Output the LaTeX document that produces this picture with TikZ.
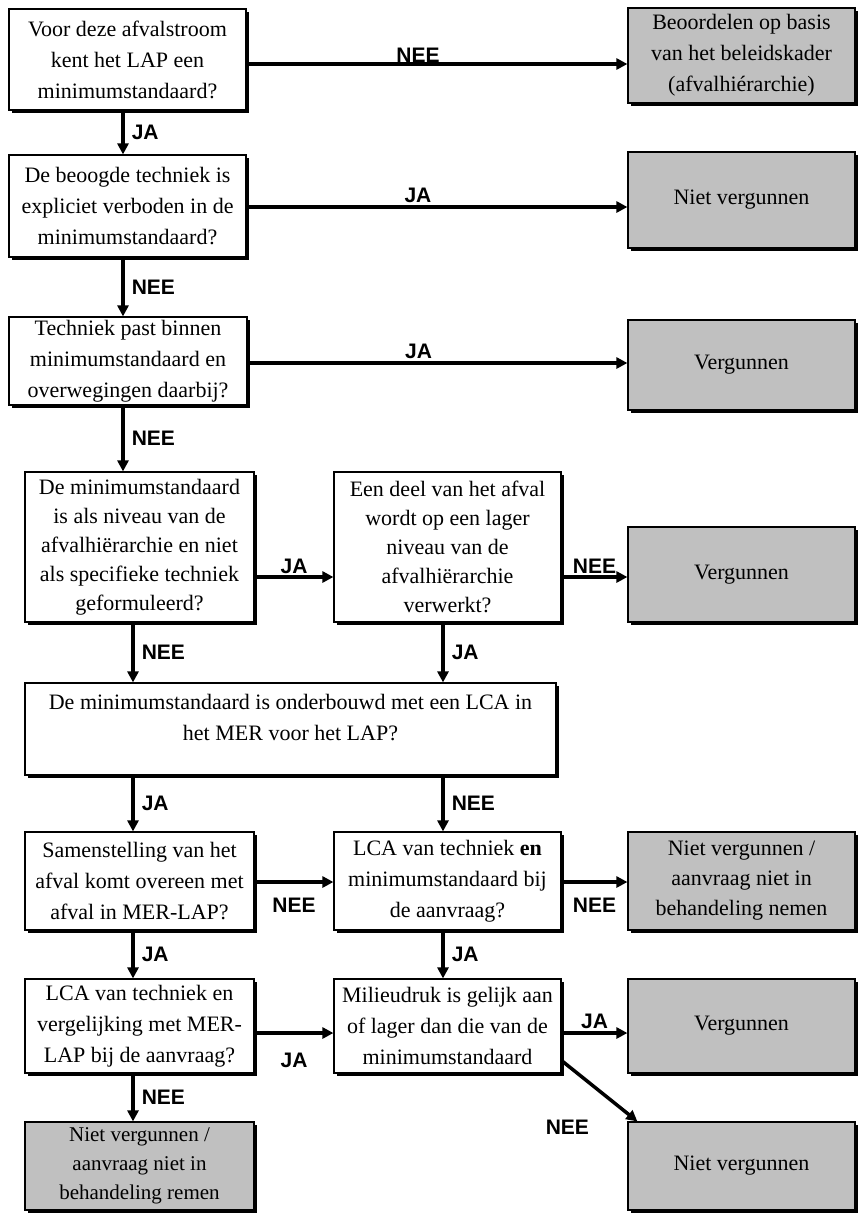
\documentclass[tikz,border=0pt]{standalone}
\usepackage{fontspec}
\setmainfont{Liberation Serif}
\newfontfamily\flowlab{Liberation Sans}
\usetikzlibrary{arrows.meta,shadows}
\definecolor{endgray}{RGB}{192,192,192}

\begin{document}
\begin{tikzpicture}[x=1pt,y=-1pt,
    >={Triangle[length=11pt,width=11pt]},
    vraag/.style={draw,line width=1.2pt,fill=white,align=center,
        font=\fontsize{22}{31}\selectfont,inner sep=0pt,
        drop shadow={shadow xshift=2.5pt,shadow yshift=-3pt,fill=black,opacity=1}},
    uitkomst/.style={vraag,fill=endgray},
    pijl/.style={->,line width=3.5pt},
    lab/.style={font=\flowlab\bfseries\fontsize{21}{21}\selectfont,inner sep=2pt}]

    \useasboundingbox (0,0) rectangle (858,1216);

    % vragen
    \node[vraag,minimum width=237pt,minimum height=101pt] (A) at (127.5,59.5) {Voor deze afvalstroom\\kent het LAP een\\minimumstandaard?};
    \node[vraag,minimum width=237pt,minimum height=102pt] (B) at (127.5,206) {De beoogde techniek is\\expliciet verboden in de\\minimumstandaard?};
    \node[vraag,minimum width=238pt,minimum height=88pt] (C) at (128,361) {Techniek past binnen\\minimumstandaard en\\overwegingen daarbij?};
    \node[vraag,minimum width=229pt,minimum height=150pt,font=\fontsize{22}{29}\selectfont] (D) at (139.5,547) {De minimumstandaard\\is als niveau van de\\afvalhiërarchie en niet\\als specifieke techniek\\geformuleerd?};
    \node[vraag,minimum width=227pt,minimum height=150pt,font=\fontsize{22}{29}\selectfont] (E) at (447.5,547) {Een deel van het afval\\wordt op een lager\\niveau van de\\afvalhiërarchie\\verwerkt?};
    \node[vraag,minimum width=531pt,minimum height=92pt,text depth=23pt] (F) at (290.5,729) {De minimumstandaard is onderbouwd met een LCA in\\het MER voor het LAP?};
    \node[vraag,minimum width=229pt,minimum height=98pt] (G) at (139.5,881) {Samenstelling van het\\afval komt overeen met\\afval in MER-LAP?};
    \node[vraag,minimum width=227pt,minimum height=98pt] (H) at (447.5,881) {LCA van techniek \textbf{en}\\minimumstandaard bij\\de aanvraag?};
    \node[vraag,minimum width=229pt,minimum height=94pt] (I) at (139.5,1026) {LCA van techniek en\\vergelijking met MER-\\LAP bij de aanvraag?};
    \node[vraag,minimum width=227pt,minimum height=94pt] (J) at (447.5,1026) {Milieudruk is gelijk aan\\of lager dan die van de\\minimumstandaard};

    % uitkomsten
    \node[uitkomst,minimum width=227pt,minimum height=95pt] (K) at (741.5,55.5) {Beoordelen op basis\\van het beleidskader\\(afvalhiérarchie)};
    \node[uitkomst,minimum width=227pt,minimum height=96pt] (L) at (741.5,200) {Niet vergunnen};
    \node[uitkomst,minimum width=227pt,minimum height=90pt] (M) at (741.5,365) {Vergunnen};
    \node[uitkomst,minimum width=227pt,minimum height=95pt] (N) at (741.5,574.5) {Vergunnen};
    \node[uitkomst,minimum width=227pt,minimum height=98pt,font=\fontsize{22}{30}\selectfont] (O) at (741.5,881) {Niet vergunnen /\\aanvraag niet in\\behandeling nemen};
    \node[uitkomst,minimum width=227pt,minimum height=94pt] (P) at (741.5,1026) {Vergunnen};
    \node[uitkomst,minimum width=227pt,minimum height=88pt] (Q) at (741.5,1166) {Niet vergunnen};
    \node[uitkomst,minimum width=229pt,minimum height=88pt,font=\fontsize{21}{29}\selectfont] (R) at (139.5,1166) {Niet vergunnen /\\aanvraag niet in\\behandeling remen};

    % verticale pijlen
    \path[pijl]
    ([xshift=-4.5pt]A.south) edge node[lab,right=5pt] {JA} ([xshift=-4.5pt]A.south |- B.north)
    ([xshift=-4.5pt]B.south) edge node[lab,right=5pt] {NEE} ([xshift=-4.5pt]B.south |- C.north)
    ([xshift=-5pt]C.south) edge node[lab,right=5pt] {NEE} ([xshift=-5pt]C.south |- D.north)
    ([xshift=-6.5pt]D.south) edge node[lab,right=5pt] {NEE} ([xshift=-6.5pt]D.south |- F.north)
    ([xshift=-4.5pt]E.south) edge node[lab,right=5pt] {JA} ([xshift=-4.5pt]E.south |- F.north)
    ([xshift=-6.5pt]G.north |- F.south) edge node[lab,right=5pt] {JA} ([xshift=-6.5pt]G.north)
    ([xshift=-4.5pt]H.north |- F.south) edge node[lab,right=5pt] {NEE} ([xshift=-4.5pt]H.north)
    ([xshift=-6.5pt]G.south) edge node[lab,right=5pt] {JA} ([xshift=-6.5pt]G.south |- I.north)
    ([xshift=-4.5pt]H.south) edge node[lab,right=5pt] {JA} ([xshift=-4.5pt]H.south |- J.north)
    ([xshift=-6.5pt]I.south) edge node[lab,right=5pt] {NEE} ([xshift=-6.5pt]I.south |- R.north);

    % horizontale pijlen
    \path[pijl]
    ([yshift=-4.5pt]A.east) edge node[lab,above,inner sep=0pt,pos=0.45] {NEE} ([yshift=-4.5pt]A.east -| K.west)
    ([yshift=-1pt]B.east) edge node[lab,above=1pt,pos=0.45] {JA} ([yshift=-1pt]B.east -| L.west)
    ([yshift=-2pt]C.east) edge node[lab,above=1pt,pos=0.45] {JA} ([yshift=-2pt]C.east -| M.west)
    ([yshift=-30pt]D.east) edge node[lab,above=0pt] {JA} ([yshift=-30pt]D.east -| E.west)
    ([yshift=-30pt]E.east) edge node[lab,above=0pt] {NEE} ([yshift=-30pt]E.east -| N.west)
    ([yshift=-1pt]G.east) edge node[lab,below=12pt] {NEE} ([yshift=-1pt]G.east -| H.west)
    ([yshift=-1pt]H.east) edge node[lab,below=12pt] {NEE} ([yshift=-1pt]H.east -| O.west)
    ([yshift=-7pt]I.east) edge node[lab,below=16pt] {JA} ([yshift=-7pt]I.east -| J.west)
    ([yshift=-7pt]J.east) edge node[lab,above=1pt] {JA} ([yshift=-7pt]J.east -| P.west)
    ([yshift=13pt]J.south east) edge node[lab,pos=1,xshift=-70pt,yshift=-6pt] {NEE} ([xshift=10pt]Q.north west);
\end{tikzpicture}
\end{document}
